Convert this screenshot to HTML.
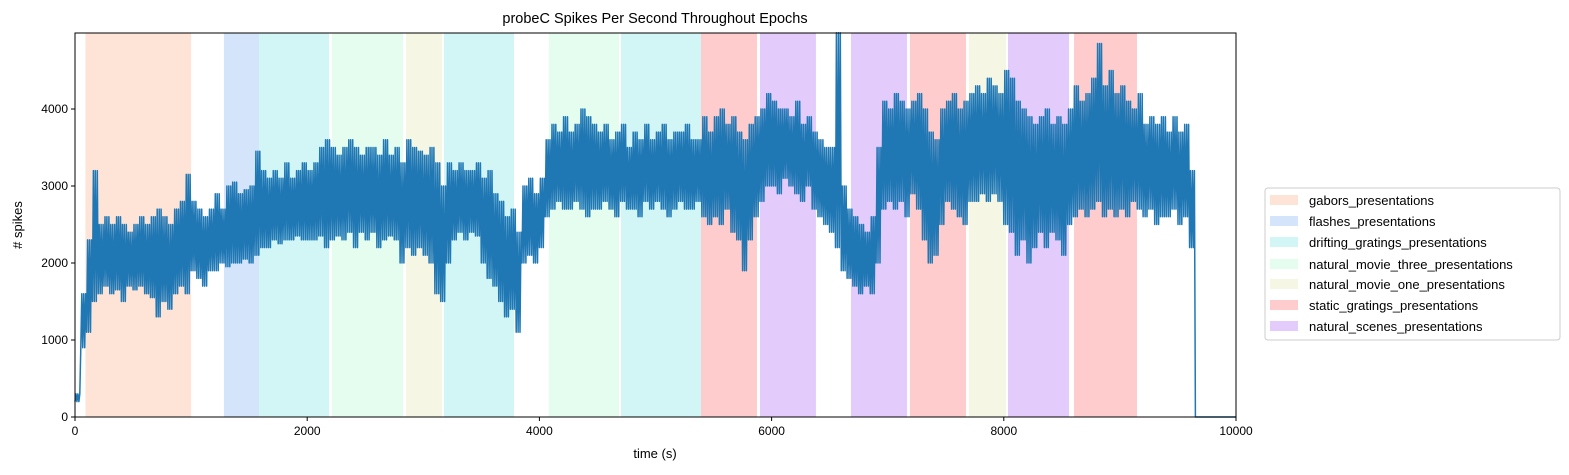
<!DOCTYPE html>
<html><head><meta charset="utf-8"><style>
body{margin:0;background:#fff;}
svg text{font-family:"Liberation Sans","DejaVu Sans",sans-serif;}
</style></head><body>
<svg id="chart" width="1569" height="470" xmlns="http://www.w3.org/2000/svg">
<rect width="1569" height="470" fill="#fff"/>
<g id="bands"></g>
<g id="series"></g>
<rect x="75" y="33" width="1161" height="384" fill="none" stroke="#000" stroke-width="1"/>
<g id="axes"></g>
<text x="655" y="23" text-anchor="middle" font-size="14.5">probeC Spikes Per Second Throughout Epochs</text>
<text x="655" y="458" text-anchor="middle" font-size="13">time (s)</text>
<text transform="translate(22,225) rotate(-90)" text-anchor="middle" font-size="13"># spikes</text>
<g id="legend"></g>
</svg>
<script>
const epochNames=["gabors_presentations","flashes_presentations","drifting_gratings_presentations","natural_movie_three_presentations","natural_movie_one_presentations","static_gratings_presentations","natural_scenes_presentations"];
const epochColors=["#fee3d7","#d4e4fb","#d1f6f5","#e4fdee","#f5f7e4","#fecccc","#e3ccfc"];
const epochStart=[90,1283,1585,2213,2851,3178,4083,4703,5392,5900,6684,7192,7700,8036,8605];
const epochEnd=[1000,1585,2188,2825,3161,3781,4686,5392,5874,6382,7166,7674,8019,8562,9147];
const epochType=[0,1,2,3,4,2,3,2,5,6,6,5,4,6,5];
const binStep=50;
const lo=[200,900,1100,1500,1600,1700,1600,1650,1500,1700,
1650,1700,1600,1550,1300,1500,1400,1600,1700,1600,
1900,1800,1700,1900,1900,2000,1950,2000,2000,2050,
2000,2100,2200,2200,2300,2250,2300,2300,2350,2300,
2300,2300,2350,2200,2300,2350,2300,2400,2200,2400,
2300,2400,2200,2300,2350,2300,2000,2200,2100,2200,
2100,2000,1600,1500,2000,2300,2400,2300,2400,2350,
2000,1800,1700,1500,1300,1400,1100,2000,2100,2000,
2200,2600,2700,2800,2700,2700,2800,2700,2600,2700,
2700,2800,2700,2600,2800,2700,2700,2600,2800,2700,
2800,2700,2600,2700,2800,2700,2700,2800,2600,2500,
2600,2500,2700,2400,2300,1900,2300,2600,2800,3000,
3000,2900,3100,3000,2900,2800,3000,2700,2600,2500,
2400,2200,1900,1800,1700,1600,1700,1600,2000,2700,
2800,2700,2800,2600,2900,2700,2300,2000,2100,2500,
2800,2700,2600,2500,2800,2800,2900,2800,2900,2800,
2500,2400,2100,2300,2000,2200,2400,2200,2400,2300,
2100,2500,2600,2700,2600,2700,2800,2600,2700,2600,
2700,2600,2800,2700,2600,2700,2500,2600,2600,2700,
2500,2600,2200,0];
const hi=[300,1600,2300,3200,2500,2600,2500,2600,2500,2400,
2500,2600,2500,2600,2700,2600,2500,2700,2800,3150,
2800,2700,2600,2700,2900,2700,3000,3050,2900,2950,
3000,3450,3200,3100,3200,3100,3300,3100,3200,3300,
3200,3300,3500,3600,3500,3400,3500,3600,3500,3400,
3500,3500,3400,3600,3400,3500,3300,3600,3500,3450,
3400,3500,3300,3000,3300,3200,3300,3200,3200,3300,
3100,3200,2900,2800,2600,2700,2400,3000,3100,2900,
3100,3600,3800,3700,3900,3700,3800,4000,3900,3800,
3700,3800,3600,3700,3800,3500,3700,3600,3800,3600,
3700,3800,3600,3700,3700,3800,3600,3600,3900,3700,
3900,4000,3800,3900,3700,3600,3800,3900,4000,4200,
4100,4000,4000,3900,4100,3800,3900,3700,3600,3500,
3500,4990,3000,2700,2600,2500,2400,2600,3500,4100,
4000,4200,4100,4000,4100,4200,4000,3700,3600,4000,
4100,4200,4000,4100,4200,4300,4200,4400,4300,4200,
4500,4400,4100,4000,3900,3800,3900,4000,3800,3900,
3800,4000,4300,4100,4200,4400,4850,4300,4500,4200,
4300,4100,4000,4200,3800,3900,3800,3900,3700,3900,
3700,3800,3200,0];
const xTicks=[0,2000,4000,6000,8000,10000];
const yTicks=[0,1000,2000,3000,4000];

const NS="http://www.w3.org/2000/svg";
const X0=75,X1=1236,Y0=417,Y1=33,XMAX=10000,YMAX=4987;
const xs=t=>X0+t/XMAX*(X1-X0);
const ys=v=>Y0-v/YMAX*(Y0-Y1);
function mk(tag,attrs,parent){const e=document.createElementNS(NS,tag);for(const k in attrs)e.setAttribute(k,attrs[k]);parent.appendChild(e);return e;}

const bands=document.getElementById('bands');
epochStart.forEach((s,i)=>{
  const r=mk('rect',{x:xs(s),y:Y1,width:xs(epochEnd[i])-xs(s),height:Y0-Y1,fill:epochColors[epochType[i]]},bands);
  
  
});

const series=document.getElementById('series');
let pts=[];
for(let i=0;i<lo.length;i++){
  const t=i*binStep;
  if(i===lo.length-1){pts.push([t,lo[i]]);break;}
  const n=3;
  for(let k=0;k<n;k++){
    const tt=t+k*binStep/n;
    pts.push([tt,lo[i]]);
    pts.push([tt+binStep/(2*n),hi[i]]);
  }
}
pts.push([XMAX,0]);
const path=mk('polyline',{points:pts.map(p=>xs(p[0]).toFixed(1)+','+ys(p[1]).toFixed(1)).join(' '),fill:'none',stroke:'#1f77b4','stroke-width':1.5,'stroke-linejoin':'round'},series);



const axes=document.getElementById('axes');
xTicks.forEach(v=>{
  mk('line',{x1:xs(v),x2:xs(v),y1:Y0,y2:Y0+4,stroke:'#000'},axes);
  const t=mk('text',{x:xs(v),y:Y0+18,'text-anchor':'middle','font-size':12},axes);
  t.textContent=v;
  
  
});
yTicks.forEach(v=>{
  mk('line',{x1:X0-4,x2:X0,y1:ys(v),y2:ys(v),stroke:'#000'},axes);
  const t=mk('text',{x:X0-7,y:ys(v)+4,'text-anchor':'end','font-size':12},axes);
  t.textContent=v;
  
  
});

const legend=document.getElementById('legend');
const lb=mk('rect',{x:1265,y:188,width:295,height:152,rx:3,fill:'#fff',stroke:'#ccc'},legend);


const legY=[200,221,242,264,284,305,326];
epochNames.forEach((n,i)=>{
  const g=mk('g',{},legend);
  
  
  mk('rect',{x:1270,y:legY[i]-5,width:28,height:10,fill:epochColors[i]},g);
  const t=mk('text',{x:1309,y:legY[i]+5,'font-size':13},g);
  t.textContent=n;
});
</script>
</body></html>
